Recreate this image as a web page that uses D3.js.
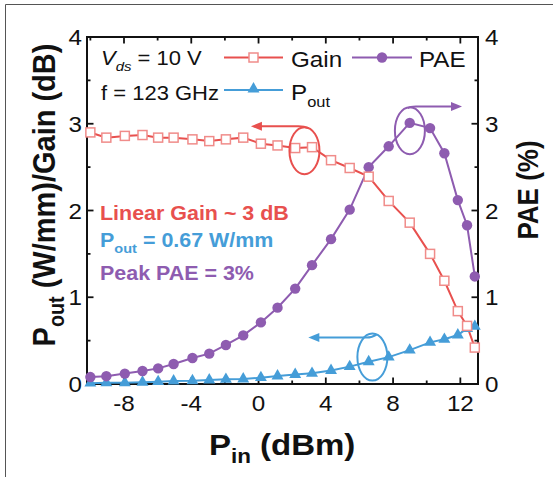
<!DOCTYPE html>
<html><head><meta charset="utf-8">
<script src="https://cdn.jsdelivr.net/npm/d3@7"></script>
<style>
body{margin:0;background:#fff}
svg{display:block}
text{font-family:"Liberation Sans",Arial,Helvetica,sans-serif;fill:#111}
</style>
</head><body><svg id="c" width="553" height="477"></svg>
<script>
// ---- data ----
const pin   = [-10,-9.05,-7.95,-6.9,-5.97,-5.05,-3.93,-2.93,-1.94,-0.91,0.14,1.13,2.18,3.18,4.31,5.42,6.55,7.74,8.99,10.2,11.05,11.85,12.4,12.86];
const gain  = [2.90,2.84,2.86,2.87,2.84,2.84,2.82,2.80,2.82,2.84,2.77,2.75,2.72,2.73,2.58,2.49,2.39,2.11,1.86,1.50,1.19,0.84,0.67,0.42];
const pae   = [0.08,0.09,0.12,0.15,0.18,0.23,0.30,0.35,0.45,0.56,0.71,0.88,1.10,1.37,1.67,2.01,2.50,2.74,3.01,2.95,2.66,2.12,1.83,1.24];
const pout  = [0.01,0.015,0.015,0.02,0.027,0.035,0.038,0.046,0.054,0.058,0.073,0.092,0.11,0.123,0.156,0.20,0.257,0.31,0.39,0.48,0.515,0.565,0.64,0.665];
const xMajor = [-8,-4,0,4,8,12];
const xMinor = [-10,-6,-2,2,6,10];
const yMajor = [0,1,2,3,4];
const yMinor = [0.5,1.5,2.5,3.5];
const xLabels = ["-8","-4","0","4","8","12"];
const yLabels = ["0","1","2","3","4"];

const RED = "#e8504e", RED_L = "#f08c8a", BLUE = "#459dd8", PURPLE = "#8e5cb0";
const SX = 1.1;

const svg = d3.select("#c");
const L = 87, R = 478, T = 37, B = 384;
const x = d3.scaleLinear().domain([-10.2, 13.05]).range([L, R]);
const y = d3.scaleLinear().domain([0, 4]).range([B, T]);
const y2 = d3.scaleLinear().domain([0, 4]).range([B, T]);

// outer frame
svg.append("path").attr("d", "M5.5,477 V4.5 H553").attr("fill","none").attr("stroke","#555").attr("stroke-width",1);

// helper for stretched text
function label(px, py, parts, opts) {
  opts = opts || {};
  const g = svg.append("g").attr("transform", `translate(${px},${py}) scale(${SX},1)` + (opts.rot ? " rotate(-90)" : ""));
  const t = g.append("text")
    .attr("font-size", opts.size || 20)
    .attr("font-weight", opts.bold ? "bold" : "normal")
    .attr("text-anchor", opts.anchor || "start")
    .style("fill", opts.color || "#111");
  let shift = 0;
  parts.forEach(p => {
    const ts = t.append("tspan").text(p.t);
    const want = p.sub ? (p.subDy || 0.3) * (opts.size || 20) : 0;
    if (want !== shift) { ts.attr("dy", want - shift); shift = want; }
    if (p.sub) ts.attr("font-size", (opts.size || 20) * 0.68);
    if (p.italic) ts.attr("font-style", "italic");
  });
  return t;
}

// ---- axes (ticks inward) ----
const ax = svg.append("g");
const major = 6.5, minor = 3.5;
const tickStyle = s => s.attr("stroke","#111").attr("stroke-width",1.8);
xMajor.forEach(v => {
  tickStyle(ax.append("line").attr("x1",x(v)).attr("x2",x(v)).attr("y1",B).attr("y2",B-major));
  tickStyle(ax.append("line").attr("x1",x(v)).attr("x2",x(v)).attr("y1",T).attr("y2",T+major));
});
xMinor.forEach(v => {
  tickStyle(ax.append("line").attr("x1",x(v)).attr("x2",x(v)).attr("y1",B).attr("y2",B-minor));
  tickStyle(ax.append("line").attr("x1",x(v)).attr("x2",x(v)).attr("y1",T).attr("y2",T+minor));
});
yMajor.forEach(v => {
  tickStyle(ax.append("line").attr("x1",L).attr("x2",L+major).attr("y1",y(v)).attr("y2",y(v)));
  tickStyle(ax.append("line").attr("x1",R).attr("x2",R-major).attr("y1",y2(v)).attr("y2",y2(v)));
});
yMinor.forEach(v => {
  tickStyle(ax.append("line").attr("x1",L).attr("x2",L+minor).attr("y1",y(v)).attr("y2",y(v)));
  tickStyle(ax.append("line").attr("x1",R).attr("x2",R-minor).attr("y1",y2(v)).attr("y2",y2(v)));
});
ax.append("rect").attr("x",L).attr("y",T).attr("width",R-L).attr("height",B-T)
  .attr("fill","none").attr("stroke","#111").attr("stroke-width",2);

// tick labels
xMajor.forEach((v,i) => label(x(v), 411, [{t:xLabels[i]}], {size:22, anchor:"middle"}));
yMajor.forEach((v,i) => label(82, y(v)+8, [{t:yLabels[i]}], {size:22, anchor:"end"}));
yMajor.forEach((v,i) => label(485, y2(v)+8, [{t:yLabels[i]}], {size:22}));

// axis titles
label(x(1.4), 455, [{t:"P"},{t:"in",sub:true,subDy:0.28},{t:" (dBm)"}], {size:30, bold:true, anchor:"middle"});
label(55, 195, [{t:"P"},{t:"out",sub:true,subDy:0.28},{t:" (W/mm)/Gain (dB)"}], {size:29, bold:true, anchor:"middle", rot:true});
label(538, 190, [{t:"PAE (%)"}], {size:26, bold:true, anchor:"middle", rot:true});

// ---- series ----
const idx = d3.range(pin.length);
const line = (arr, sc) => d3.line().x(i => x(pin[i])).y(i => sc(arr[i]))(idx);

const plot = svg.append("g");
plot.append("path").attr("d", line(gain, y)).attr("fill","none").attr("stroke",RED).attr("stroke-width",2);
plot.append("path").attr("d", line(pout, y)).attr("fill","none").attr("stroke",BLUE).attr("stroke-width",2);
plot.append("path").attr("d", line(pae, y2)).attr("fill","none").attr("stroke",PURPLE).attr("stroke-width",2);

const tri = d3.symbol().type(d3.symbolTriangle).size(62);
plot.selectAll(".pt").data(idx).join("path").attr("class","pt")
  .attr("transform", i => `translate(${x(pin[i])},${y(pout[i])})`).attr("d", tri()).attr("fill", BLUE);
plot.selectAll(".pc").data(idx).join("circle").attr("class","pc")
  .attr("cx", i => x(pin[i])).attr("cy", i => y2(pae[i])).attr("r", 5.2).attr("fill", PURPLE);
plot.selectAll(".ps").data(idx).join("rect").attr("class","ps")
  .attr("x", i => x(pin[i]) - 4.5).attr("y", i => y(gain[i]) - 4.5).attr("width", 9).attr("height", 9)
  .attr("fill", "#fff").attr("stroke", RED_L).attr("stroke-width", 1.5);

// ---- annotations (ellipses + arrows) ----
const ann = [
  {cx:2.73, cy:2.69, tipX:-0.45, tipY:2.97, color:RED, sc:y},
  {cx:9.0, cy:2.92, tipX:12.1, tipY:3.2, color:PURPLE, sc:y2},
  {cx:6.77, cy:0.31, tipX:2.96, tipY:0.536, color:BLUE, sc:y}
];
ann.forEach(a => {
  const ex = x(a.cx), ey = a.sc(a.cy), rx = 15, ry = 23.5;
  svg.append("ellipse").attr("cx",ex).attr("cy",ey).attr("rx",rx).attr("ry",ry)
    .attr("fill","none").attr("stroke",a.color).attr("stroke-width",2);
  const tx = x(a.tipX), ty = a.sc(a.tipY);
  const dir = tx < ex ? -1 : 1;
  const startX = ex + (dir < 0 ? 4 : -2);
  svg.append("path").attr("d", `M${startX},${ey-ry+1} Q${ex},${ty} ${ex+dir*6},${ty} L${tx - dir*9},${ty}`)
    .attr("fill","none").attr("stroke",a.color).attr("stroke-width",2);
  svg.append("path").attr("d", `M${tx},${ty} L${tx-dir*11},${ty-4.5} L${tx-dir*11},${ty+4.5} Z`).attr("fill",a.color);
});

// ---- legend ----
const lg = svg.append("g");
lg.append("line").attr("x1",224).attr("x2",283).attr("y1",57.5).attr("y2",57.5).attr("stroke",RED).attr("stroke-width",2);
lg.append("rect").attr("x",253.5-4.5).attr("y",57.5-4.5).attr("width",9).attr("height",9).attr("fill","#fff").attr("stroke",RED_L).attr("stroke-width",1.5);
lg.append("line").attr("x1",352).attr("x2",412).attr("y1",57.5).attr("y2",57.5).attr("stroke",PURPLE).attr("stroke-width",2);
lg.append("circle").attr("cx",382).attr("cy",57.5).attr("r",5.2).attr("fill",PURPLE);
lg.append("line").attr("x1",224).attr("x2",283).attr("y1",90).attr("y2",90).attr("stroke",BLUE).attr("stroke-width",2);
lg.append("path").attr("transform","translate(253.5,89)").attr("d",tri()).attr("fill",BLUE);
label(291, 66.5, [{t:"Gain"}], {size:22});
label(419, 66.5, [{t:"PAE"}], {size:22});
label(291, 100, [{t:"P"},{t:"out",sub:true,subDy:0.3}], {size:22});

label(101, 65, [{t:"V",italic:true},{t:"ds",italic:true,sub:true,subDy:0.3},{t:" = 10 V"}], {size:20});
label(101, 99.5, [{t:"f = 123 GHz"}], {size:20});

// colored notes
label(100, 220, [{t:"Linear Gain ~ 3 dB"}], {size:19.5, bold:true, color:RED});
label(100, 247, [{t:"P"},{t:"out",sub:true,subDy:0.3},{t:" = 0.67 W/mm"}], {size:19.5, bold:true, color:BLUE});
label(100, 280, [{t:"Peak PAE = 3%"}], {size:19.5, bold:true, color:PURPLE});
</script>
</body></html>
